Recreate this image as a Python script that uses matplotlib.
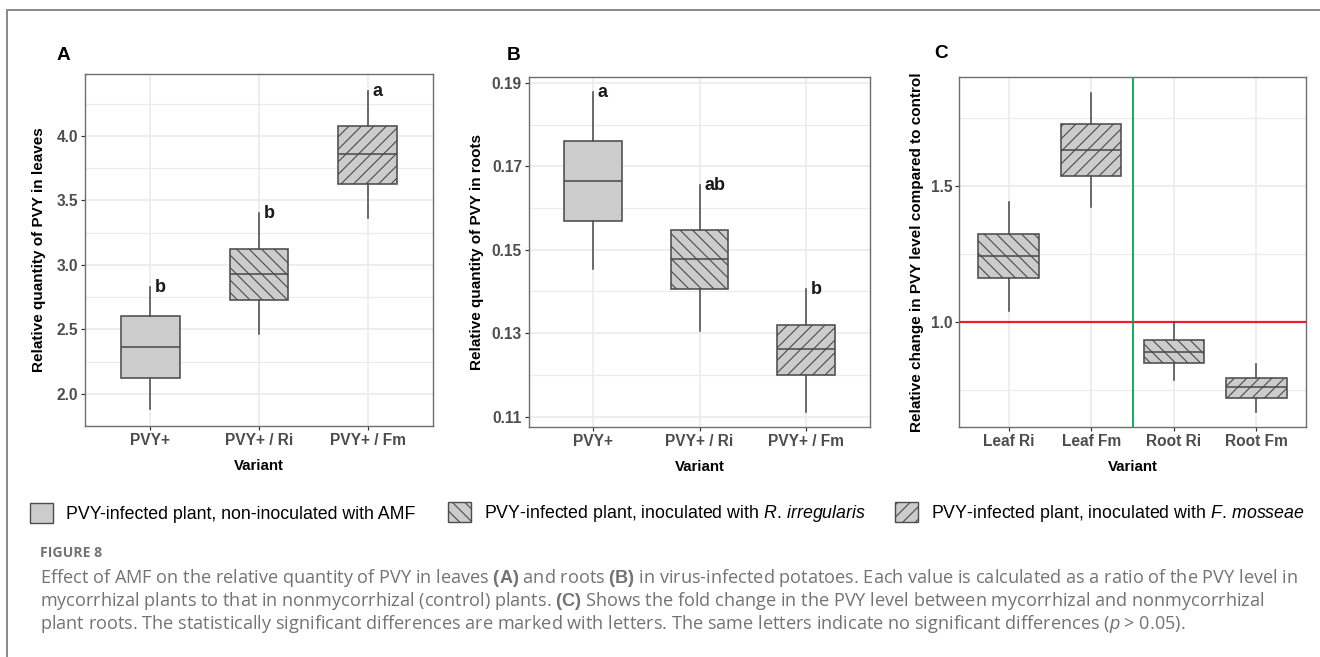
import numpy as np
import matplotlib
matplotlib.use('Agg')
import matplotlib.pyplot as plt
import matplotlib.patches as mpatches
from matplotlib.lines import Line2D
from matplotlib.ticker import MultipleLocator, FormatStrFormatter

# values (box = whisker low, q1, median, q3, whisker high)
leaf_groups = ['PVY+', 'PVY+ / Ri', 'PVY+ / Fm']
leaf_low = [1.88, 2.46, 3.36]
leaf_q1 = [2.12, 2.73, 3.63]
leaf_med = [2.36, 2.93, 3.86]
leaf_q3 = [2.60, 3.12, 4.08]
leaf_high = [2.83, 3.40, 4.35]
leaf_letters = ['b', 'b', 'a']

root_groups = ['PVY+', 'PVY+ / Ri', 'PVY+ / Fm']
root_low = [0.1453, 0.1304, 0.1112]
root_q1 = [0.1570, 0.1405, 0.1200]
root_med = [0.1665, 0.1477, 0.1261]
root_q3 = [0.1760, 0.1547, 0.1320]
root_high = [0.1877, 0.1654, 0.1407]
root_letters = ['a', 'ab', 'b']

change_groups = ['Leaf Ri', 'Leaf Fm', 'Root Ri', 'Root Fm']
change_low = [1.042, 1.423, 0.787, 0.670]
change_q1 = [1.161, 1.537, 0.848, 0.722]
change_med = [1.243, 1.634, 0.891, 0.760]
change_q3 = [1.326, 1.728, 0.935, 0.795]
change_high = [1.441, 1.844, 1.000, 0.847]

HATCH = {'none': '', 'Ri': '\\\\\\\\', 'Fm': '////'}
leaf_hatch = [HATCH['none'], HATCH['Ri'], HATCH['Fm']]
change_hatch = [HATCH['Ri'], HATCH['Fm'], HATCH['Ri'], HATCH['Fm']]

legend_labels = [
    'PVY-infected plant, non-inoculated with AMF',
    r'PVY-infected plant, inoculated with $\mathit{R.\,irregularis}$',
    r'PVY-infected plant, inoculated with $\mathit{F.\,mosseae}$',
]

caption_lines = [
    r'Effect of AMF on the relative quantity of PVY in leaves $\mathbf{(A)}$ and roots $\mathbf{(B)}$ in virus-infected potatoes. Each value is calculated as a ratio of the PVY level in',
    r'mycorrhizal plants to that in nonmycorrhizal (control) plants. $\mathbf{(C)}$ Shows the fold change in the PVY level between mycorrhizal and nonmycorrhizal',
    r'plant roots. The statistically significant differences are marked with letters. The same letters indicate no significant differences ($\mathit{p}$ > 0.05).',
]

W, H, DPI = 1320, 657, 150
PT = 72 / DPI  # points per pixel

plt.rcParams['font.family'] = ['Liberation Sans', 'DejaVu Sans']
plt.rcParams['mathtext.fontset'] = 'custom'
plt.rcParams['mathtext.rm'] = 'Liberation Sans'
plt.rcParams['mathtext.it'] = 'Liberation Sans:italic'
plt.rcParams['mathtext.bf'] = 'Liberation Sans:bold'
plt.rcParams['hatch.linewidth'] = 0.55
plt.rcParams['hatch.color'] = '#333333'

box_fill = '#cccccc'
box_edge = '#4d4d4d'
grid_col = '#ebebeb'

fig = plt.figure(figsize=(W / DPI, H / DPI), dpi=DPI)


def px_axes(left, top, right, bottom):
    return fig.add_axes([left / W, 1 - bottom / H, (right - left) / W, (bottom - top) / H])


def draw_panel(ax, groups, low, q1, med, q3, high, hatches, width, ylim, step, offset, fmt, ylabel):
    stats = [dict(whislo=a, q1=b, med=c, q3=d, whishi=e, fliers=[])
             for a, b, c, d, e in zip(low, q1, med, q3, high)]
    pos = np.arange(1, len(groups) + 1)
    bp = ax.bxp(stats, positions=pos, widths=width, patch_artist=True,
                showcaps=False, showfliers=False,
                boxprops=dict(facecolor=box_fill, edgecolor=box_edge, linewidth=1.6 * PT),
                medianprops=dict(color=box_edge, linewidth=1.6 * PT),
                whiskerprops=dict(color=box_edge, linewidth=1.6 * PT))
    for patch, h in zip(bp['boxes'], hatches):
        patch.set_hatch(h)

    ax.set_xlim(0.4, len(groups) + 0.6)
    ax.set_ylim(*ylim)
    ax.set_xticks(pos)
    ax.set_xticklabels(groups)
    ax.yaxis.set_major_locator(MultipleLocator(step, offset=offset))
    ax.yaxis.set_minor_locator(MultipleLocator(step / 2, offset=offset))
    ax.yaxis.set_major_formatter(FormatStrFormatter(fmt))
    ax.tick_params(which='major', length=4 * PT, width=1.2 * PT, color='#333333',
                   labelcolor='#4d4d4d', labelsize=15.5 * PT, pad=3 * PT)
    ax.tick_params(which='minor', length=0)
    for lab in ax.get_xticklabels() + ax.get_yticklabels():
        lab.set_fontweight('bold')
    ax.grid(True, which='major', color=grid_col, linewidth=1.6 * PT)
    ax.grid(True, which='minor', axis='y', color=grid_col, linewidth=1.1 * PT)
    ax.set_axisbelow(True)
    for sp in ax.spines.values():
        sp.set_color('#6e6e6e')
        sp.set_linewidth(1.4 * PT)

    ax.set_xlabel('Variant', fontsize=15 * PT, fontweight='bold', va='center')
    ax.set_ylabel(ylabel, fontsize=15.3 * PT, fontweight='bold', va='center')
    return pos


# panel A: leaves
axA = px_axes(85, 74, 433, 426)
posA = draw_panel(axA, leaf_groups, leaf_low, leaf_q1, leaf_med, leaf_q3, leaf_high,
                  leaf_hatch, 0.54, (1.75, 4.48), 0.5, 0, '%.1f', 'Relative quantity of PVY in leaves')
axA.yaxis.set_label_coords((39 - 85) / 348, 0.5)
for p, top, let in zip(posA, leaf_high, leaf_letters):
    axA.annotate(let, (p, top), xytext=(5, -5), textcoords='offset pixels',
                 ha='left', va='baseline', fontsize=18 * PT, fontweight='bold', color='#1a1a1a')

# panel B: roots
axB = px_axes(529, 77, 870, 427)
posB = draw_panel(axB, root_groups, root_low, root_q1, root_med, root_q3, root_high,
                  leaf_hatch, 0.54, (0.1075, 0.1914), 0.02, 0.01, '%.2f', 'Relative quantity of PVY in roots')
axB.yaxis.set_label_coords((477 - 529) / 341, 0.5)
for p, top, let in zip(posB, root_high, root_letters):
    axB.annotate(let, (p, top), xytext=(5, -5), textcoords='offset pixels',
                 ha='left', va='baseline', fontsize=18 * PT, fontweight='bold', color='#1a1a1a')

# panel C: fold change
axC = px_axes(959, 77, 1306, 427)
draw_panel(axC, change_groups, change_low, change_q1, change_med, change_q3, change_high,
           change_hatch, 0.73, (0.614, 1.902), 0.5, 0, '%.1f', 'Relative change in PVY level compared to control')
axC.yaxis.set_label_coords((917 - 959) / 347, 0.5)
axC.axhline(1.0, color='#ee1c25', linewidth=2.2 * PT, zorder=1.5)
axC.axvline(2.5, color='#00a651', linewidth=1.8 * PT, zorder=1.5)

# x label offsets (40 px under each panel)
for ax in (axA, axB, axC):
    h_px = ax.get_position().height * H
    ax.xaxis.set_label_coords(0.5, -40 / h_px)

# panel letters
for x, y, s in [(57, 55, 'A'), (507, 55, 'B'), (934, 54, 'C')]:
    fig.text(x / W, 1 - y / H, s, fontsize=19 * PT, fontweight='bold', ha='left', va='center')

# legend, one entry each
legend_x = [30, 448, 895]
for x, lab, h in zip(legend_x, legend_labels, leaf_hatch):
    handle = mpatches.Patch(facecolor=box_fill, edgecolor=box_edge, linewidth=1.4 * PT, hatch=h)
    fig.legend([handle], [lab], loc='center left', bbox_to_anchor=(x / W, 1 - 513 / H),
               frameon=False, borderpad=0, borderaxespad=0, fontsize=17.8 * PT,
               handlelength=1.3, handleheight=1.3, handletextpad=0.72)

# caption
cap_col = '#737373'
fig.text(40 / W, 1 - 553 / H, 'FIGURE 8', fontsize=14 * PT, fontweight='bold',
         color=cap_col, family='Open Sans', ha='left', va='center')
for i, line in enumerate(caption_lines):
    fig.text(40 / W, 1 - (578 + 23 * i) / H, line, fontsize=18.15 * PT, color=cap_col,
             family='Open Sans', ha='left', va='center')

# page frame
fig.add_artist(Line2D([7 / W, 7 / W], [0, 1 - 10 / H], transform=fig.transFigure,
                      color='#8c8c8c', linewidth=2 * PT))
fig.add_artist(Line2D([7 / W, 1], [1 - 10 / H, 1 - 10 / H], transform=fig.transFigure,
                      color='#8c8c8c', linewidth=2 * PT))

fig.savefig('out.png', dpi=DPI, facecolor='white')
plt.close()
